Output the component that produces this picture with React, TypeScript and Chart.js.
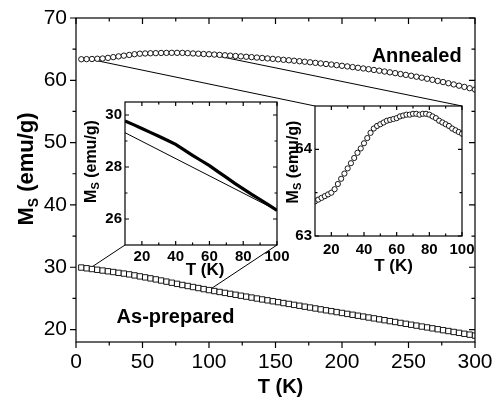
import React, { useEffect, useRef } from "react";
import { Chart, registerables } from "chart.js";

Chart.register(...registerables);

const FONT = '"Liberation Sans", Arial, Helvetica, sans-serif';

// ---------- main plot data ----------
const mainTemps = [
  4, 8, 12, 16, 20, 24, 28, 32, 36, 40, 44, 48, 52, 56, 60, 64, 68, 72, 76, 80, 84, 88, 92, 96, 100,
  104, 108, 112, 116, 120, 124, 128, 132, 136, 140, 144, 148, 152, 156, 160, 164, 168, 172, 176, 180, 184, 188, 192, 196, 200,
  204, 208, 212, 216, 220, 224, 228, 232, 236, 240, 244, 248, 252, 256, 260, 264, 268, 272, 276, 280, 284, 288, 292, 296, 300,
];
const annealedMs = [
  63.38, 63.4, 63.42, 63.46, 63.5, 63.6, 63.72, 63.84, 63.96, 64.07, 64.19, 64.27, 64.31, 64.34, 64.36, 64.39, 64.4, 64.41, 64.41, 64.4, 64.36, 64.31, 64.27, 64.22, 64.18,
  64.13, 64.08, 64.02, 63.96, 63.9, 63.84, 63.78, 63.72, 63.65, 63.58, 63.51, 63.44, 63.37, 63.29, 63.22, 63.14, 63.06, 62.98, 62.89, 62.8, 62.71, 62.62, 62.53, 62.43, 62.33,
  62.23, 62.12, 62.01, 61.9, 61.78, 61.66, 61.54, 61.41, 61.28, 61.15, 61.01, 60.87, 60.73, 60.58, 60.42, 60.25, 60.08, 59.9, 59.72, 59.53, 59.34, 59.14, 58.94, 58.73, 58.52,
];
const asPreparedMs = [
  29.95, 29.83, 29.71, 29.59, 29.47, 29.35, 29.23, 29.1, 28.98, 28.85, 28.69, 28.53, 28.37, 28.21, 28.05, 27.87, 27.69, 27.51, 27.33, 27.15, 26.99, 26.82, 26.66, 26.49, 26.33,
  26.18, 26.03, 25.88, 25.73, 25.58, 25.43, 25.28, 25.13, 24.98, 24.83, 24.69, 24.54, 24.4, 24.25, 24.11, 23.96, 23.82, 23.67, 23.53, 23.38, 23.24, 23.09, 22.95, 22.8, 22.66,
  22.51, 22.37, 22.22, 22.08, 21.93, 21.79, 21.64, 21.5, 21.35, 21.21, 21.06, 20.92, 20.77, 20.63, 20.48, 20.34, 20.19, 20.05, 19.9, 19.76, 19.61, 19.47, 19.32, 19.18, 19.03,
];
const mainXTicks = [0, 50, 100, 150, 200, 250, 300];
const mainYTicks = [20, 30, 40, 50, 60, 70];

// ---------- left inset (as-prepared, 10-100 K) ----------
const leftInsetTemps = [10, 15, 20, 25, 30, 35, 40, 45, 50, 55, 60, 65, 70, 75, 80, 85, 90, 95, 100];
const leftInsetMs = [
  29.77, 29.63, 29.48, 29.33, 29.18, 29.03, 28.87, 28.66, 28.45, 28.25, 28.05, 27.82, 27.6, 27.37, 27.16, 26.95, 26.75, 26.54, 26.33,
];
const fitTemps = [10, 100];
const fitMs = [29.32, 26.33];
const insetXTicks = [20, 40, 60, 80, 100];
const leftInsetYTicks = [26, 28, 30];

// ---------- right inset (annealed, 10-100 K) ----------
const rightInsetTemps = [
  10, 12, 14, 16, 18, 20, 22, 24, 26, 28, 30, 32, 34, 36, 38, 40, 42, 44, 46, 48, 50, 52, 54,
  56, 58, 60, 62, 64, 66, 68, 70, 72, 74, 76, 78, 80, 82, 84, 86, 88, 90, 92, 94, 96, 98, 100,
];
const rightInsetMs = [
  63.4, 63.42, 63.44, 63.46, 63.48, 63.5, 63.54, 63.6, 63.66, 63.72, 63.78, 63.84, 63.9, 63.96, 64.01, 64.07, 64.13, 64.19, 64.24, 64.27, 64.29, 64.31, 64.33,
  64.34, 64.35, 64.36, 64.38, 64.39, 64.4, 64.4, 64.41, 64.41, 64.4, 64.41, 64.41, 64.4, 64.38, 64.36, 64.33, 64.31, 64.29, 64.27, 64.24, 64.22, 64.2, 64.18,
];
const rightInsetYTicks = [63, 64];

// ---------- layout ----------
const W = 493;
const H = 397;
const LEFT_BOX = { left: 78, top: 92, width: 218, height: 192 };
const RIGHT_BOX = { left: 283, top: 96, width: 192, height: 185 };

const pts = (xs: number[], ys: number[]) => xs.map((x, i) => ({ x, y: ys[i] }));

function minorValues(t: number[], min: number, max: number) {
  const half = (t[1] - t[0]) / 2;
  let v = t[0] - half;
  while (v - 2 * half > min + 1e-6) v -= 2 * half;
  const out: number[] = [];
  for (; v < max - 1e-6; v += 2 * half) if (v > min + 1e-6) out.push(v);
  return out;
}

function drawSubTitle(ctx: CanvasRenderingContext2D, cx: number, cy: number, size: number, sub: number) {
  const mainF = `bold ${size}px ${FONT}`;
  const subF = `bold ${sub}px ${FONT}`;
  ctx.save();
  ctx.translate(cx, cy);
  ctx.rotate(-Math.PI / 2);
  ctx.fillStyle = "#000";
  ctx.textAlign = "left";
  ctx.textBaseline = "alphabetic";
  ctx.font = mainF;
  const wM = ctx.measureText("M").width;
  const wR = ctx.measureText(" (emu/g)").width;
  ctx.font = subF;
  const wS = ctx.measureText("S").width;
  let x = -(wM + wS + wR) / 2;
  const base = size * 0.36;
  ctx.font = mainF;
  ctx.fillText("M", x, base);
  x += wM;
  ctx.font = subF;
  ctx.fillText("S", x, base + size * 0.22);
  x += wS;
  ctx.font = mainF;
  ctx.fillText(" (emu/g)", x, base);
  ctx.restore();
}

type FrameCfg = {
  xTicks: number[];
  yTicks: number[];
  major: number;
  minor: number;
  lw: number;
  leftOut: boolean;
  bottomOut: boolean;
  xTitle: { dx: number; dy: number; size: number };
  yTitle: { dx: number; dy: number; size: number; sub: number };
};

function framePlugin(cfg: FrameCfg) {
  return {
    id: "frame",
    afterDatasetsDraw(chart: any) {
      const { ctx, chartArea: a, scales } = chart;
      const xs = scales.x;
      const ys = scales.y;
      ctx.save();
      ctx.strokeStyle = "#000";
      ctx.lineWidth = cfg.lw;
      ctx.strokeRect(a.left, a.top, a.right - a.left, a.bottom - a.top);
      ctx.beginPath();
      const xt = (v: number, len: number) => {
        const p = xs.getPixelForValue(v);
        ctx.moveTo(p, a.bottom);
        ctx.lineTo(p, a.bottom + (cfg.bottomOut ? len : -len));
        ctx.moveTo(p, a.top);
        ctx.lineTo(p, a.top + len);
      };
      const yt = (v: number, len: number) => {
        const p = ys.getPixelForValue(v);
        ctx.moveTo(a.left, p);
        ctx.lineTo(a.left + (cfg.leftOut ? -len : len), p);
        ctx.moveTo(a.right, p);
        ctx.lineTo(a.right - len, p);
      };
      cfg.xTicks.forEach((v) => xt(v, cfg.major));
      minorValues(cfg.xTicks, xs.min, xs.max).forEach((v) => xt(v, cfg.minor));
      cfg.yTicks.forEach((v) => yt(v, cfg.major));
      minorValues(cfg.yTicks, ys.min, ys.max).forEach((v) => yt(v, cfg.minor));
      ctx.stroke();

      ctx.fillStyle = "#000";
      ctx.font = `bold ${cfg.xTitle.size}px ${FONT}`;
      ctx.textAlign = "center";
      ctx.textBaseline = "middle";
      ctx.fillText("T (K)", (a.left + a.right) / 2 + cfg.xTitle.dx, a.bottom + cfg.xTitle.dy);
      ctx.restore();
      drawSubTitle(ctx, a.left + cfg.yTitle.dx, (a.top + a.bottom) / 2 + cfg.yTitle.dy, cfg.yTitle.size, cfg.yTitle.sub);
    },
  };
}

function baseOptions(o: {
  xmin: number; xmax: number; ymin: number; ymax: number;
  xTicks: number[]; yTicks: number[];
  padding: any; yWidth: number; xHeight: number;
  font: any; xPad: number; yPad: number;
}) {
  return {
    responsive: false,
    animation: false as const,
    events: [] as any[],
    layout: { padding: o.padding },
    plugins: { legend: { display: false }, tooltip: { enabled: false }, title: { display: false } },
    scales: {
      x: {
        type: "linear" as const,
        min: o.xmin,
        max: o.xmax,
        grid: { display: false, drawTicks: false },
        border: { display: false },
        afterBuildTicks: (s: any) => {
          s.ticks = o.xTicks.map((v) => ({ value: v }));
        },
        afterFit: (s: any) => {
          s.height = o.xHeight;
          s.paddingLeft = 0;
          s.paddingRight = 0;
        },
        ticks: { font: o.font, color: "#000", padding: o.xPad, maxRotation: 0, autoSkip: false },
      },
      y: {
        type: "linear" as const,
        min: o.ymin,
        max: o.ymax,
        grid: { display: false, drawTicks: false },
        border: { display: false },
        afterBuildTicks: (s: any) => {
          s.ticks = o.yTicks.map((v) => ({ value: v }));
        },
        afterFit: (s: any) => {
          s.width = o.yWidth;
          s.paddingTop = 0;
          s.paddingBottom = 0;
        },
        ticks: { font: o.font, color: "#000", padding: o.yPad, autoSkip: false },
      },
    },
  };
}

export default function App() {
  const mainRef = useRef<HTMLCanvasElement>(null);
  const leftRef = useRef<HTMLCanvasElement>(null);
  const rightRef = useRef<HTMLCanvasElement>(null);

  useEffect(() => {
    const insetFont = { family: FONT, size: 15, weight: "bold" as const };

    const left = new Chart(leftRef.current!, {
      type: "scatter",
      data: {
        datasets: [
          {
            data: pts(leftInsetTemps, leftInsetMs),
            showLine: true,
            borderColor: "#000",
            borderWidth: 3.2,
            pointRadius: 0,
            tension: 0,
          },
          {
            data: pts(fitTemps, fitMs),
            showLine: true,
            borderColor: "#000",
            borderWidth: 1,
            pointRadius: 0,
          },
        ],
      },
      options: baseOptions({
        xmin: 10, xmax: 100, ymin: 25, ymax: 30.5,
        xTicks: insetXTicks, yTicks: leftInsetYTicks,
        padding: { top: 10, right: 19, left: 0, bottom: 0 },
        yWidth: 47, xHeight: 39, font: insetFont, xPad: 3, yPad: 3,
      }) as any,
      plugins: [
        framePlugin({
          xTicks: insetXTicks, yTicks: leftInsetYTicks, major: 4, minor: 2.5, lw: 1.2,
          leftOut: false, bottomOut: false,
          xTitle: { dx: 4, dy: 25, size: 17 },
          yTitle: { dx: -35, dy: -12, size: 16, sub: 11 },
        }),
      ],
    });

    const right = new Chart(rightRef.current!, {
      type: "scatter",
      data: {
        datasets: [
          {
            data: pts(rightInsetTemps, rightInsetMs),
            pointStyle: "circle",
            pointRadius: 2.6,
            pointBorderWidth: 0.9,
            pointBorderColor: "#000",
            pointBackgroundColor: "#fff",
          },
        ],
      },
      options: baseOptions({
        xmin: 10, xmax: 100, ymin: 63, ymax: 64.5,
        xTicks: insetXTicks, yTicks: rightInsetYTicks,
        padding: { top: 10, right: 13, left: 0, bottom: 0 },
        yWidth: 32, xHeight: 45, font: insetFont, xPad: 5, yPad: 3,
      }) as any,
      plugins: [
        framePlugin({
          xTicks: insetXTicks, yTicks: rightInsetYTicks, major: 4, minor: 2.5, lw: 1.2,
          leftOut: false, bottomOut: false,
          xTitle: { dx: 5, dy: 30, size: 17 },
          yTitle: { dx: -23, dy: -9, size: 16, sub: 11 },
        }),
      ],
    });

    const connectors = {
      id: "connectors",
      beforeDatasetsDraw(chart: any) {
        const { ctx, scales } = chart;
        const xs = scales.x;
        const ys = scales.y;
        const la = left.chartArea;
        const ra = right.chartArea;
        const n1 = leftInsetTemps.length - 1;
        const n2 = rightInsetTemps.length - 1;
        const lines: [number, number, number, number][] = [
          [xs.getPixelForValue(leftInsetTemps[0]), ys.getPixelForValue(leftInsetMs[0]), LEFT_BOX.left + la.left, LEFT_BOX.top + la.bottom],
          [xs.getPixelForValue(leftInsetTemps[n1]), ys.getPixelForValue(leftInsetMs[n1]), LEFT_BOX.left + la.right, LEFT_BOX.top + la.bottom],
          [xs.getPixelForValue(rightInsetTemps[0]), ys.getPixelForValue(rightInsetMs[0]), RIGHT_BOX.left + ra.left, RIGHT_BOX.top + ra.top],
          [xs.getPixelForValue(rightInsetTemps[n2]), ys.getPixelForValue(rightInsetMs[n2]), RIGHT_BOX.left + ra.right, RIGHT_BOX.top + ra.top],
        ];
        ctx.save();
        ctx.strokeStyle = "#000";
        ctx.lineWidth = 1;
        ctx.beginPath();
        lines.forEach(([x1, y1, x2, y2]) => {
          ctx.moveTo(x1, y1);
          ctx.lineTo(x2, y2);
        });
        ctx.stroke();
        ctx.restore();
      },
    };

    const labels = {
      id: "seriesLabels",
      afterDatasetsDraw(chart: any) {
        const { ctx, scales } = chart;
        ctx.save();
        ctx.fillStyle = "#000";
        ctx.font = `bold 20px ${FONT}`;
        ctx.textBaseline = "alphabetic";
        ctx.textAlign = "right";
        ctx.fillText("Annealed", scales.x.getPixelForValue(290), scales.y.getPixelForValue(62.95));
        ctx.textAlign = "left";
        ctx.fillText("As-prepared", scales.x.getPixelForValue(30.5), scales.y.getPixelForValue(21.0));
        ctx.restore();
      },
    };

    const main = new Chart(mainRef.current!, {
      type: "scatter",
      data: {
        datasets: [
          {
            data: pts(mainTemps, annealedMs),
            pointStyle: "circle",
            pointRadius: 2.7,
            pointBorderWidth: 0.9,
            pointBorderColor: "#000",
            pointBackgroundColor: "#fff",
          },
          {
            data: pts(mainTemps, asPreparedMs),
            pointStyle: "rect",
            pointRadius: 3.8,
            pointBorderWidth: 0.9,
            pointBorderColor: "#000",
            pointBackgroundColor: "#fff",
          },
        ],
      },
      options: baseOptions({
        xmin: 0, xmax: 300, ymin: 18, ymax: 70,
        xTicks: mainXTicks, yTicks: mainYTicks,
        padding: { top: 18, right: 18, left: 0, bottom: 0 },
        yWidth: 76, xHeight: 55,
        font: { family: FONT, size: 21, weight: "normal" as const },
        xPad: 8, yPad: 9,
      }) as any,
      plugins: [
        connectors,
        labels,
        framePlugin({
          xTicks: mainXTicks, yTicks: mainYTicks, major: 6, minor: 3.5, lw: 1.2,
          leftOut: true, bottomOut: true,
          xTitle: { dx: 5, dy: 45, size: 20 },
          yTitle: { dx: -51, dy: -11, size: 22, sub: 14 },
        }),
      ],
    });

    return () => {
      main.destroy();
      left.destroy();
      right.destroy();
    };
  }, []);

  return (
    <div style={{ position: "fixed", left: 0, top: 0, width: W, height: H, background: "#fff" }}>
      <canvas ref={mainRef} width={W} height={H} style={{ position: "absolute", left: 0, top: 0, width: W, height: H }} />
      <canvas
        ref={leftRef}
        width={LEFT_BOX.width}
        height={LEFT_BOX.height}
        style={{ position: "absolute", left: LEFT_BOX.left, top: LEFT_BOX.top, width: LEFT_BOX.width, height: LEFT_BOX.height }}
      />
      <canvas
        ref={rightRef}
        width={RIGHT_BOX.width}
        height={RIGHT_BOX.height}
        style={{ position: "absolute", left: RIGHT_BOX.left, top: RIGHT_BOX.top, width: RIGHT_BOX.width, height: RIGHT_BOX.height }}
      />
    </div>
  );
}
